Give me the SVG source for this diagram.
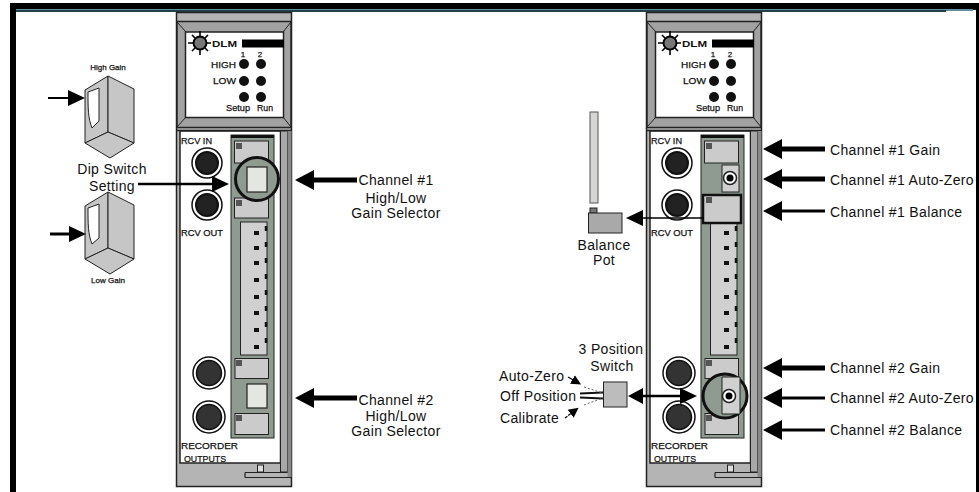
<svg xmlns="http://www.w3.org/2000/svg" xmlns:xlink="http://www.w3.org/1999/xlink" width="979" height="492" viewBox="0 0 979 492">
<style>
text{font-family:"Liberation Sans",Arial,sans-serif;fill:#111}
.lbl{font-size:14px;letter-spacing:.35px}
.mid{text-anchor:middle}
.tiny{font-size:9.5px;stroke:#111;stroke-width:.25}
.small{font-size:8px;stroke:#111;stroke-width:.25;text-anchor:middle}
.gray{fill:#c6c6c6;stroke:#222;stroke-width:1}
.dk{fill:#8f9a90}
.plate{fill:#cbcbcb;stroke:#222;stroke-width:1}
.led{fill:#111}
.jack{fill:#222;stroke:#111;stroke-width:2}
.ring{fill:#fff;stroke:#111;stroke-width:1.5}
.con{fill:none;stroke:#000}
.ray{stroke:#000;stroke-width:1.6}
.sel{fill:#e4e6e2;stroke:#222;stroke-width:1.2}
</style>
<defs>
<marker id="big" markerUnits="userSpaceOnUse" markerWidth="20" markerHeight="22" viewBox="0 0 20 22" refX="7" refY="11" orient="auto"><polygon points="0,1 19,11 0,21" fill="#000"/></marker>
<marker id="mid" markerUnits="userSpaceOnUse" markerWidth="18" markerHeight="18" viewBox="0 0 18 18" refX="7" refY="9" orient="auto"><polygon points="0,1 17,9 0,17" fill="#000"/></marker>
<marker id="tiny" markerUnits="userSpaceOnUse" markerWidth="11" markerHeight="11" viewBox="0 0 11 11" refX="3" refY="5.500" orient="auto"><polygon points="0,0.500 10,5.500 0,10.500" fill="#000"/></marker>
<g id="jack"><circle r="15" class="ring"/><circle r="11" class="jack"/></g>
<g id="jack-rec"><circle r="16" class="ring"/><circle r="12.500" fill="#333" stroke="#111" stroke-width="1.500"/></g>
<g id="box">
<polygon points="85,90 108,76 108,132 85,143" class="gray"/>
<polygon points="108,76 134,89 134,143 108,132" class="gray"/>
<polygon points="85,143 108,132 134,143 110,158" class="gray"/>
</g>
<g id="module">
<rect x="176.500" y="12.500" width="115" height="474" fill="#b4b4b4" stroke="#222" stroke-width="1.500"/>
<rect x="177" y="21.500" width="114" height="106" fill="#a2a2a2" stroke="#222" stroke-width="1.500"/>
<path d="M177 22l9 10M291 22l-8 10M177 127l9-10M291 127l-8-10" stroke="#222" fill="none"/>
<rect x="185.500" y="32" width="98" height="85.500" fill="#fff" stroke="#222" stroke-width="1.500"/>
<rect x="180" y="131" width="100.500" height="332" fill="#fff" stroke="#222" stroke-width="1.500"/>
<path d="M177 130.500H291" stroke="#222" stroke-width="1.500"/>
<rect x="280.500" y="131" width="7" height="341" fill="#a8a8a8" stroke="#222"/>
<rect x="287.500" y="131" width="4" height="346" fill="#888"/>
<path d="M245 472.500H287.500M245 477.500H291M245 472.500V477.500" fill="none" stroke="#222" stroke-width="1.200"/>
<rect x="257.500" y="465" width="6" height="7" fill="#ddd" stroke="#222"/>
<circle cx="200" cy="43" r="6.500" fill="#777" stroke="#000" stroke-width="2"/>
<path class="ray" d="M188 43h5M207 43h4M200 31v5M200 50v5M192 35l3 3M208 35l-3 3M192 51l3-3M208 51l-3-3"/>
<text x="212" y="47" font-size="8.500" font-weight="bold" textLength="25" lengthAdjust="spacingAndGlyphs">DLM</text>
<rect x="242" y="39.500" width="42" height="8" fill="#000"/>
<text x="243" y="57" class="small">1</text><text x="260" y="57" class="small">2</text>
<text x="211" y="67.500" class="tiny" textLength="25" lengthAdjust="spacingAndGlyphs">HIGH</text>
<text x="213" y="84" class="tiny" textLength="23" lengthAdjust="spacingAndGlyphs">LOW</text>
<text x="226" y="111" class="tiny" textLength="24" lengthAdjust="spacingAndGlyphs">Setup</text>
<text x="257" y="111" class="tiny" textLength="16" lengthAdjust="spacingAndGlyphs">Run</text>
<circle class="led" cx="244" cy="64" r="5"/><circle class="led" cx="261" cy="64" r="5"/>
<circle class="led" cx="244" cy="81" r="5"/><circle class="led" cx="261" cy="81" r="5"/>
<circle class="led" cx="244" cy="97" r="5"/><circle class="led" cx="261" cy="97" r="5"/>
<text x="181" y="144" class="tiny" textLength="31" lengthAdjust="spacingAndGlyphs">RCV IN</text>
<text x="181" y="236" class="tiny" textLength="42" lengthAdjust="spacingAndGlyphs">RCV OUT</text>
<text x="181" y="449" class="tiny" textLength="57" lengthAdjust="spacingAndGlyphs">RECORDER</text>
<text x="184" y="462" class="tiny" textLength="42" lengthAdjust="spacingAndGlyphs">OUTPUTS</text>
<use xlink:href="#jack" href="#jack" x="207" y="163"/>
<use xlink:href="#jack" href="#jack" x="207" y="205"/>
<use xlink:href="#jack-rec" href="#jack-rec" x="209" y="373"/>
<use xlink:href="#jack-rec" href="#jack-rec" x="209" y="417"/>
<rect x="231" y="135" width="43" height="303" class="dk" stroke="#222"/>
<rect x="231" y="135" width="43" height="3" fill="#111"/>
<rect x="240.500" y="222" width="26.500" height="133" fill="#d0d0d0" stroke="#222"/>
<rect x="254" y="231" width="5" height="4" class="led"/><rect x="254" y="246" width="5" height="4" class="led"/><rect x="254" y="261" width="5" height="4" class="led"/><rect x="254" y="278" width="5" height="4" class="led"/><rect x="254" y="295" width="5" height="4" class="led"/><rect x="254" y="311" width="5" height="4" class="led"/><rect x="254" y="328" width="5" height="4" class="led"/><rect x="254" y="345" width="5" height="4" class="led"/>
<path d="M266 226v125" stroke="#111" stroke-width="2.500" stroke-dasharray="5 11"/>
<rect x="234.500" y="141" width="34" height="22" class="plate"/>
<rect x="235" y="358.500" width="33.500" height="20" class="plate"/>
<rect x="235" y="413.500" width="33.500" height="21" class="plate"/>
<rect x="236" y="360" width="6" height="6" fill="#555"/>
<rect x="236" y="415" width="6" height="6" fill="#555"/>
<rect x="236" y="143" width="6" height="6" fill="#555"/>
</g>
</defs>
<g id="frame">
<rect x="10" y="3" width="969" height="7" fill="#000"/>
<rect x="16" y="9" width="957" height="2" fill="#5f8f9a"/>
<rect x="16" y="10" width="930" height="2" fill="#23424c"/>
<rect x="10" y="3" width="6" height="489" fill="#000"/>
<rect x="976" y="3" width="3" height="489" fill="#000"/>
</g>
<g id="module-left">
<use xlink:href="#module" href="#module"/>
<rect x="234.500" y="198" width="34" height="20" class="plate"/>
<rect x="236" y="200" width="6" height="6" fill="#555"/>
<rect x="247" y="384" width="20" height="24" class="sel"/>
<circle cx="257" cy="179" r="21.500" fill="#8f9a90" stroke="#111" stroke-width="3"/>
<rect x="247" y="167" width="20" height="25" class="sel"/>
</g>
<g id="module-right">
<use xlink:href="#module" href="#module" x="470"/>
<rect x="722" y="165" width="17" height="27" fill="#d0d0d0" stroke="#222"/>
<circle cx="730" cy="178" r="6.500" fill="#fff" stroke="#222" stroke-width="1.500"/><circle cx="730" cy="178" r="3.500" fill="#000"/>
<rect x="703" y="195" width="38" height="28" fill="#cbcbcb" stroke="#111" stroke-width="2.500"/>
<rect x="706" y="197" width="6" height="6" fill="#555"/>
<circle cx="725" cy="396" r="22" fill="#8f9a90" stroke="#111" stroke-width="3"/>
<path d="M722 377H740V414H722Z" fill="#d0d0d0" stroke="#222"/>
<circle cx="729" cy="396" r="6.500" fill="#fff" stroke="#222" stroke-width="1.500"/><circle cx="729" cy="396" r="3.500" fill="#000"/>
</g>
<g id="dip-high">
<use xlink:href="#box" href="#box"/>
<path d="M88 92l11-4V121L92 128C88 118 88 108 88 92Z" fill="#fff" stroke="#222"/>
<text x="108" y="70" class="small">High Gain</text>
</g>
<g id="dip-low">
<use xlink:href="#box" href="#box" y="116"/>
<path d="M88 208l11-4V238L92 244C88 234 88 224 88 208Z" fill="#fff" stroke="#222"/>
<text x="108" y="283" class="small">Low Gain</text>
</g>
<g id="balance-pot">
<rect x="590" y="112" width="8" height="91" fill="#d4d8d4" stroke="#555"/>
<rect x="590" y="208" width="7" height="5" fill="#777" stroke="#222"/>
<rect x="588.500" y="213" width="33.500" height="20" fill="#a9a9a9" stroke="#222"/>
</g>
<g id="switch">
<path d="M580 393.500l23-1M580 397.500l23 1" stroke="#111" stroke-width="2"/>
<path d="M584 387l19 6M584 405l19-7" stroke="#666" stroke-dasharray="2 2"/>
<rect x="603.500" y="382" width="23.500" height="25" fill="#bcbcbc" stroke="#222"/>
</g>
<g id="connectors">
<line class="con" x1="48" y1="98" x2="75" y2="98" stroke-width="2" marker-end="url(#mid)"/>
<line class="con" x1="50" y1="234" x2="76" y2="234" stroke-width="3" marker-end="url(#mid)"/>
<line class="con" x1="138" y1="184" x2="219" y2="184" stroke-width="2.500" marker-end="url(#mid)"/>
<line class="con" x1="357" y1="180" x2="307" y2="180" stroke-width="5" marker-end="url(#big)"/>
<line class="con" x1="357" y1="398" x2="307" y2="398" stroke-width="5" marker-end="url(#big)"/>
<line class="con" x1="825" y1="149" x2="775" y2="149" stroke-width="5" marker-end="url(#big)"/>
<line class="con" x1="825" y1="179" x2="775" y2="179" stroke-width="5" marker-end="url(#big)"/>
<line class="con" x1="825" y1="211" x2="775" y2="211" stroke-width="3" marker-end="url(#big)"/>
<line class="con" x1="825" y1="368" x2="775" y2="368" stroke-width="5" marker-end="url(#big)"/>
<line class="con" x1="825" y1="398" x2="775" y2="398" stroke-width="3" marker-end="url(#big)"/>
<line class="con" x1="825" y1="430" x2="775" y2="430" stroke-width="3" marker-end="url(#big)"/>
<line class="con" x1="704" y1="218" x2="636" y2="218" stroke-width="1.500" marker-end="url(#mid)"/>
<line class="con" x1="640" y1="396" x2="687" y2="396" stroke-width="2.500" marker-end="url(#mid)"/>
<polygon points="628,396 643,388 643,404" fill="#000"/>
<line class="con" x1="568" y1="377" x2="575" y2="381" stroke-width="1.200" marker-end="url(#tiny)"/>
<line class="con" x1="565" y1="418" x2="573" y2="412" stroke-width="1.200" stroke-dasharray="3 1" marker-end="url(#tiny)"/>
</g>
<g id="labels">
<text x="112" y="174" class="lbl mid">Dip Switch</text>
<text x="112" y="191" class="lbl mid">Setting</text>
<text x="396" y="185" class="lbl mid">Channel #1</text>
<text x="396" y="203" class="lbl mid">High/Low</text>
<text x="396" y="218" class="lbl mid">Gain Selector</text>
<text x="396" y="405" class="lbl mid">Channel #2</text>
<text x="396" y="421" class="lbl mid">High/Low</text>
<text x="396" y="436" class="lbl mid">Gain Selector</text>
<text x="830" y="155" class="lbl">Channel #1 Gain</text>
<text x="830" y="185" class="lbl">Channel #1 Auto-Zero</text>
<text x="830" y="217" class="lbl">Channel #1 Balance</text>
<text x="830" y="373" class="lbl">Channel #2 Gain</text>
<text x="830" y="403" class="lbl">Channel #2 Auto-Zero</text>
<text x="830" y="435" class="lbl">Channel #2 Balance</text>
<text x="604" y="250" class="lbl mid">Balance</text>
<text x="604" y="265" class="lbl mid">Pot</text>
<text x="611" y="354" class="lbl mid">3 Position</text>
<text x="612" y="371" class="lbl mid">Switch</text>
<text x="499" y="381" class="lbl">Auto-Zero</text>
<text x="500" y="401" class="lbl">Off Position</text>
<text x="500" y="423" class="lbl">Calibrate</text>
</g>
</svg>
